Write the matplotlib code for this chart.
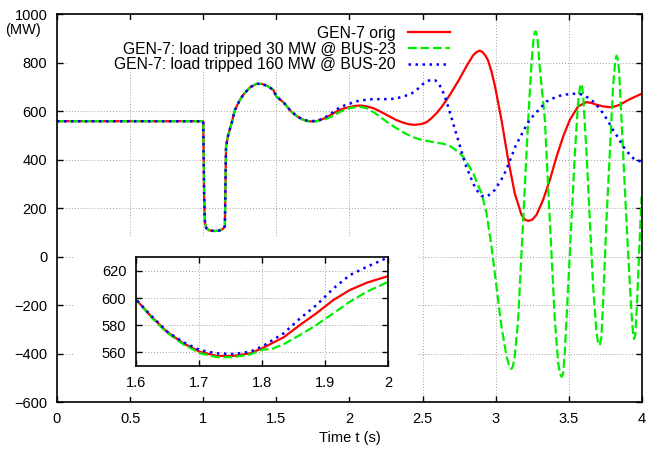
import numpy as np
import matplotlib.pyplot as plt
from matplotlib.patches import Rectangle

plt.rcParams["font.family"] = ["Liberation Sans", "DejaVu Sans"]

# part shared by all three runs (s, MW)
t_common = [0.0, 1.0, 1.003, 1.006, 1.012, 1.02, 1.04, 1.08, 1.11, 1.135, 1.148,
            1.152, 1.156, 1.171, 1.194, 1.217, 1.25, 1.274, 1.32, 1.365, 1.40,
            1.44, 1.479, 1.50, 1.55, 1.60]
p_common = [558, 558, 420, 250, 140, 118, 108, 105, 107, 114, 125,
            300, 454, 502, 550, 605, 645, 667, 698, 712, 712,
            703, 687, 660, 635, 599]

# GEN-7 orig
t_orig = [1.622, 1.649, 1.675, 1.701, 1.728, 1.754, 1.781, 1.802, 1.834, 1.86,
          1.886, 1.913, 1.939, 1.966, 2.0, 2.035, 2.071, 2.11, 2.162, 2.22,
          2.276, 2.32, 2.367, 2.41, 2.447, 2.49, 2.527, 2.56, 2.595, 2.63,
          2.664, 2.70, 2.75, 2.80, 2.846, 2.87, 2.891, 2.91, 2.93, 2.948,
          2.97, 2.994, 3.039, 3.085, 3.13, 3.176, 3.20, 3.222, 3.25, 3.279,
          3.324, 3.37, 3.416, 3.461, 3.507, 3.563, 3.621, 3.655, 3.689, 3.735,
          3.78, 3.815, 3.848, 3.917, 3.997]
p_orig = [587.5, 575.2, 566.7, 560.5, 557.4, 557.4, 559.3, 563.5, 571.1, 580.2,
          588.8, 598.6, 605.9, 611.3, 616.2, 621, 622.7, 620, 612, 595,
          577, 563, 552, 545, 543, 546, 554, 570, 591, 617,
          646, 680, 730, 785, 830, 844, 849, 843, 828, 808,
          765, 705, 564, 399, 261, 172, 152, 147, 152, 172,
          234, 316, 412, 495, 564, 619, 637, 633, 626, 619,
          616, 619, 626, 649, 671]

# load tripped 30 MW @ BUS-23
t_30 = [1.622, 1.649, 1.675, 1.701, 1.728, 1.754, 1.781, 1.80, 1.815, 1.834,
        1.86, 1.886, 1.913, 1.939, 1.966, 2.0, 2.04, 2.08, 2.117, 2.16,
        2.208, 2.26, 2.322, 2.38, 2.436, 2.48, 2.527, 2.58, 2.64, 2.68,
        2.709, 2.745, 2.777, 2.81, 2.846, 2.875, 2.903, 2.937, 2.971, 3.005,
        3.039, 3.074, 3.09, 3.101, 3.11, 3.118, 3.13, 3.153, 3.176, 3.199,
        3.222, 3.245, 3.258, 3.267, 3.275, 3.285, 3.301, 3.336, 3.358, 3.381,
        3.404, 3.427, 3.44, 3.45, 3.46, 3.472, 3.495, 3.518, 3.541, 3.563,
        3.575, 3.582, 3.59, 3.598, 3.621, 3.643, 3.666, 3.689, 3.70, 3.712,
        3.722, 3.734, 3.757, 3.78, 3.802, 3.818, 3.826, 3.834, 3.843, 3.86,
        3.882, 3.905, 3.928, 3.94, 3.946, 3.954, 3.966, 3.985, 3.997]
p_30 = [587, 574.5, 566, 559.5, 556.5, 556.5, 558.5, 562, 562.5, 566,
        572.8, 580.2, 588.8, 597.3, 604.7, 612, 616, 616, 612, 597,
        577, 553, 529, 508, 492, 483, 477, 471, 465, 458,
        447, 430, 412, 380, 344, 300, 261, 179, 41, -124,
        -289, -412, -448, -463, -462, -450, -412, -261, 14, 289,
        564, 800, 895, 926, 928, 905, 780, 564, 289, 14,
        -261, -440, -485, -496, -485, -398, -124, 151, 426, 633,
        695, 712, 700, 660, 426, 151, -124, -316, -355, -366,
        -335, -192, 151, 426, 701, 812, 828, 815, 770, 564,
        289, 14, -233, -325, -340, -325, -192, 82, 247]

# load tripped 160 MW @ BUS-20
t_160 = [1.622, 1.649, 1.675, 1.701, 1.728, 1.754, 1.781, 1.802, 1.834, 1.86,
         1.886, 1.913, 1.939, 1.966, 2.0, 2.035, 2.071, 2.12, 2.162, 2.22,
         2.276, 2.32, 2.367, 2.41, 2.447, 2.504, 2.535, 2.561, 2.585, 2.606,
         2.63, 2.652, 2.675, 2.698, 2.72, 2.743, 2.766, 2.789, 2.82, 2.846,
         2.875, 2.903, 2.937, 2.965, 2.994, 3.02, 3.051, 3.08, 3.108, 3.135,
         3.165, 3.2, 3.233, 3.256, 3.301, 3.347, 3.39, 3.438, 3.48, 3.529,
         3.565, 3.598, 3.63, 3.666, 3.70, 3.734, 3.77, 3.802, 3.84, 3.871,
         3.905, 3.939, 3.965, 3.995]
p_160 = [588, 575.5, 567.5, 561.8, 559.3, 558.8, 560.5, 564.9, 574, 585,
         594.8, 607.1, 616.9, 623, 630, 638, 643, 647, 649, 649,
         649, 652, 660, 668, 680, 712, 724, 729, 727, 717,
         692, 660, 617, 571, 526, 481, 433, 385, 340, 300,
         270, 250, 247, 258, 275, 300, 330, 370, 412, 455,
         490, 530, 564, 580, 610, 639, 652, 663, 668, 671,
         671, 667, 655, 639, 617, 591, 556, 522, 487, 454,
         428, 406, 396, 392]

labels = ["GEN-7 orig",
          "GEN-7: load tripped 30 MW @ BUS-23",
          "GEN-7: load tripped 160 MW @ BUS-20"]

series = [
    (t_common + t_orig, p_common + p_orig,
     dict(color="#ff0000", lw=1.6, ls="-")),
    (t_common + t_30, p_common + p_30,
     dict(color="#00ee00", lw=1.6, ls=(0, (4.0, 1.6)))),
    (t_common + t_160, p_common + p_160,
     dict(color="#0000ff", lw=1.8, ls=(0, (1, 1.8)))),
]

grid_kw = dict(color="#a0a0a0", linestyle=(0, (1, 2)), linewidth=0.7)
fs = 10.5

fig = plt.figure(figsize=(6.46, 4.51), dpi=100)
ax = fig.add_axes([0.0882, 0.1086, 0.9056, 0.8603])

for (t, p, kw), lab in zip(series, labels):
    ax.plot(t, p, label=lab, zorder=2, **kw)

ax.set_xlim(0, 4)
ax.set_ylim(-600, 1000)
ax.set_xticks(np.arange(0, 4.01, 0.5))
ax.set_xticklabels(["%g" % v for v in np.arange(0, 4.01, 0.5)])
ax.set_yticks(np.arange(-600, 1001, 200))
ax.tick_params(direction="in", top=True, right=True, length=4, width=1,
               labelsize=fs, pad=7)
ax.grid(True, **grid_kw)
for s in ax.spines.values():
    s.set_linewidth(1.2)
ax.set_xlabel("Time t (s)", fontsize=fs, labelpad=4)
fig.text(0.036, 0.934, "(MW)", fontsize=fs, ha="center", va="center")

# opaque areas behind key and inset (gnuplot style)
ax.add_patch(Rectangle((0.017, 0.856), 0.672, 0.1285, transform=ax.transAxes,
                       facecolor="white", edgecolor="none", zorder=1.6))
ax.add_patch(Rectangle((0.0274, 0.013), 0.588, 0.415, transform=ax.transAxes,
                       facecolor="white", edgecolor="none", zorder=1.6))

leg = ax.legend(loc="upper right", bbox_to_anchor=(458 / 646, 1 - 18 / 451),
                bbox_transform=fig.transFigure, frameon=False, fontsize=11.3,
                markerfirst=False, borderpad=0, labelspacing=0.05,
                handlelength=2.7, handletextpad=0.75)
for col in leg._legend_handle_box.get_children():
    col.align = "right"

# zoomed inset
axin = fig.add_axes([0.2105, 0.1885, 0.3906, 0.241])
for t, p, kw in series:
    axin.plot(t, p, **kw)
axin.set_xlim(1.6, 2.0)
axin.set_ylim(550, 630)
axin.set_xticks([1.6, 1.7, 1.8, 1.9, 2.0])
axin.set_xticklabels(["1.6", "1.7", "1.8", "1.9", "2"])
axin.set_yticks([560, 580, 600, 620])
axin.tick_params(direction="in", top=True, right=True, length=4, width=1,
                 labelsize=fs, pad=7)
axin.grid(True, **grid_kw)
for s in axin.spines.values():
    s.set_linewidth(1.2)

fig.savefig("out.png", dpi=100)
